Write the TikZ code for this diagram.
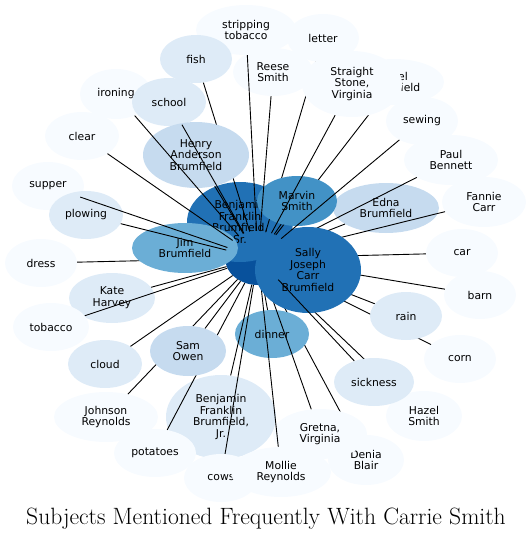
\documentclass[tikz,border=0pt]{standalone}
\usepackage{fontspec}
\newfontfamily\labelfont{DejaVu Sans}
\usetikzlibrary{shapes.geometric}
\definecolor{blues0}{HTML}{F7FBFF}
\definecolor{blues1}{HTML}{DEEBF7}
\definecolor{blues2}{HTML}{C6DBEF}
\definecolor{blues4}{HTML}{6BAED6}
\definecolor{blues5}{HTML}{4292C6}
\definecolor{blues6}{HTML}{2171B5}
\definecolor{blues7}{HTML}{08519C}
\pgfdeclarelayer{edges_under}
\pgfdeclarelayer{nodes_low}
\pgfdeclarelayer{edges_mid}
\pgfdeclarelayer{nodes_high}
\pgfsetlayers{edges_under,nodes_low,edges_mid,nodes_high,main}
\begin{document}
\begin{tikzpicture}[x=1pt, y=-1pt, node_style/.style={ellipse,inner sep=0pt,minimum width=73pt,minimum height=48pt,align=center,font=\labelfont\fontsize{10.8}{11.7}\selectfont},edge_style/.style={draw=black, line width=0.9pt},
  b0/.style={node_style,fill=blues0}, b1/.style={node_style,fill=blues1}, b2/.style={node_style,fill=blues2},
  b4/.style={node_style,fill=blues4}, b5/.style={node_style,fill=blues5}, b6/.style={node_style,fill=blues6}, b7/.style={node_style,fill=blues7}]
      \useasboundingbox (0,0) rectangle (532,539);
      \begin{pgfonlayer}{nodes_low}
      \draw
        (246,30) node[b0,minimum width=100pt,minimum height=50pt] (stripping){stripping\\tobacco}
        (323,38) node[b0,minimum width=72pt] (letter){letter}
        (394,82) node[b0,minimum width=100pt,minimum height=46pt] (ethel){Ethel\\Brumfield}
        (196,59) node[b1,minimum width=72pt] (fish){fish}
        (116,94) node[b0,minimum width=72pt,minimum height=50pt] (ironing){ironing}
        (169,102) node[b1,minimum width=74pt] (school){school}
        (82,136) node[b0,minimum width=74pt] (clear){clear}
        (48,186) node[b0,minimum width=72pt] (supper){supper}
        (86,215) node[b1,minimum width=74pt] (plowing){plowing}
        (41,263) node[b0,minimum width=72pt] (dress){dress}
        (112,298) node[b1,minimum width=86pt,minimum height=50pt] (kate){Kate\\Harvey}
        (51,327) node[b0,minimum width=76pt] (tobacco){tobacco}
        (105,364) node[b1,minimum width=74pt] (cloud){cloud}
        (106,417) node[b0,minimum width=104pt,minimum height=50pt] (johnson){Johnson\\Reynolds}
        (221,417) node[b1,minimum width=110pt,minimum height=84pt] (bfjr){Benjamin\\Franklin\\Brumfield,\\Jr.}
        (155,453) node[b0,minimum width=82pt] (potatoes){potatoes}
        (221,478) node[b0,minimum width=74pt] (cows){cows}
        (281,472) node[b0,minimum width=100pt,minimum height=50pt] (mollie){Mollie\\Reynolds}
        (366,460) node[b0,minimum width=76pt,minimum height=50pt] (denia){Denia\\Blair}
        (320,434) node[b0,minimum width=94pt,minimum height=50pt] (gretna){Gretna,\\Virginia}
        (424,416) node[b0,minimum width=76pt,minimum height=50pt] (hazel){Hazel\\Smith}
        (460,359) node[b0,minimum width=72pt] (corn){corn}
        (480,295) node[b0,minimum width=72pt] (barn){barn}
        (462,253) node[b0,minimum width=72pt] (car){car}
        (484,202) node[b0,minimum width=84pt,minimum height=50pt] (fannie){Fannie\\Carr}
        (451,160) node[b0,minimum width=94pt,minimum height=50pt] (paul){Paul\\Bennett}
        (422,121) node[b0,minimum width=72pt] (sewing){sewing}
        (386,208) node[b2,minimum width=106pt,minimum height=50pt] (edna){Edna\\Brumfield}
        (272,334) node[b4,minimum width=74pt] (dinner){dinner}
        (258,258) node[b7,minimum width=66pt,minimum height=54pt] (carrie){}
        (240,222) node[b6,minimum width=106pt,minimum height=80pt] (bfsr){Benjamin\\Franklin\\Brumfield,\\Sr.};
      \end{pgfonlayer}
      \begin{pgfonlayer}{nodes_high}
      \draw
        (196,155) node[b2,minimum width=106pt,minimum height=66pt] (henry){Henry\\Anderson\\Brumfield}
        (185,248) node[b4,minimum width=106pt,minimum height=50pt] (jim){Jim\\Brumfield}
        (297,201) node[b5,minimum width=80pt,minimum height=50pt] (marvin){Marvin\\Smith}
        (308,270) node[b6,minimum width=106pt,minimum height=86pt] (sally){Sally\\Joseph\\Carr\\Brumfield}
        (188,351) node[b2,minimum width=76pt,minimum height=50pt] (sam){Sam\\Owen}
        (406,316) node[b1,minimum width=72pt] (rain){rain}
        (374,382) node[b1,minimum width=80pt] (sickness){sickness}
        (273,72) node[b0,minimum width=80pt] (reese){Reese\\Smith}
        (352,84) node[b0,minimum width=100pt,minimum height=66pt] (straight){Straight\\Stone,\\Virginia};
      \end{pgfonlayer}
      \begin{pgfonlayer}{edges_under}
        \draw[edge_style] (carrie) to (denia);
        \draw[edge_style] (carrie) to (bfsr);
        \draw[edge_style] (carrie) to (jim);
        \draw[edge_style] (carrie) to (sally);
      \end{pgfonlayer}
      \begin{pgfonlayer}{edges_mid}
        \draw[edge_style] (carrie) to (letter);
        \draw[edge_style] (carrie) to (ethel);
        \draw[edge_style] (carrie) to (fish);
        \draw[edge_style] (carrie) to (dress);
        \draw[edge_style] (carrie) to (paul);
        \draw[edge_style] (carrie) to (fannie);
        \draw[edge_style] (carrie) to (edna);
        \draw[edge_style] (carrie) to (car);
        \draw[edge_style] (carrie) to (barn);
        \draw[edge_style] (carrie) to (rain);
        \draw[edge_style] (carrie) to (corn);
        \draw[edge_style] (carrie) to (hazel);
        \draw[edge_style] (carrie) to (gretna);
        \draw[edge_style] (carrie) to (mollie);
        \draw[edge_style] (carrie) to (dinner);
        \draw[edge_style] (carrie) to (cows);
        \draw[edge_style] (carrie) to (bfjr);
        \draw[edge_style] (carrie) to (potatoes);
        \draw[edge_style] (carrie) to (johnson);
        \draw[edge_style] (carrie) to (marvin);
        \draw[edge_style] (carrie) to (henry);
      \end{pgfonlayer}
      \begin{scope}
        \draw[edge_style] (carrie) to (stripping);
        \draw[edge_style] (carrie) to (reese);
        \draw[edge_style] (carrie) to (straight);
        \draw[edge_style] (carrie) to (sewing);
        \draw[edge_style] (carrie) to (sickness);
        \draw[edge_style] (carrie) to (sam);
        \draw[edge_style] (carrie) to (cloud);
        \draw[edge_style] (carrie) to (tobacco);
        \draw[edge_style] (carrie) to (kate);
        \draw[edge_style] (carrie) to (plowing);
        \draw[edge_style] (carrie) to (supper);
        \draw[edge_style] (carrie) to (clear);
        \draw[edge_style] (carrie) to (ironing);
        \draw[edge_style] (carrie) to (school);
      \end{scope}
      \node[anchor=base,font=\fontsize{23.6}{28}\selectfont] (title) at (266,524) {Subjects Mentioned Frequently With Carrie Smith};
    \end{tikzpicture}
\end{document}
